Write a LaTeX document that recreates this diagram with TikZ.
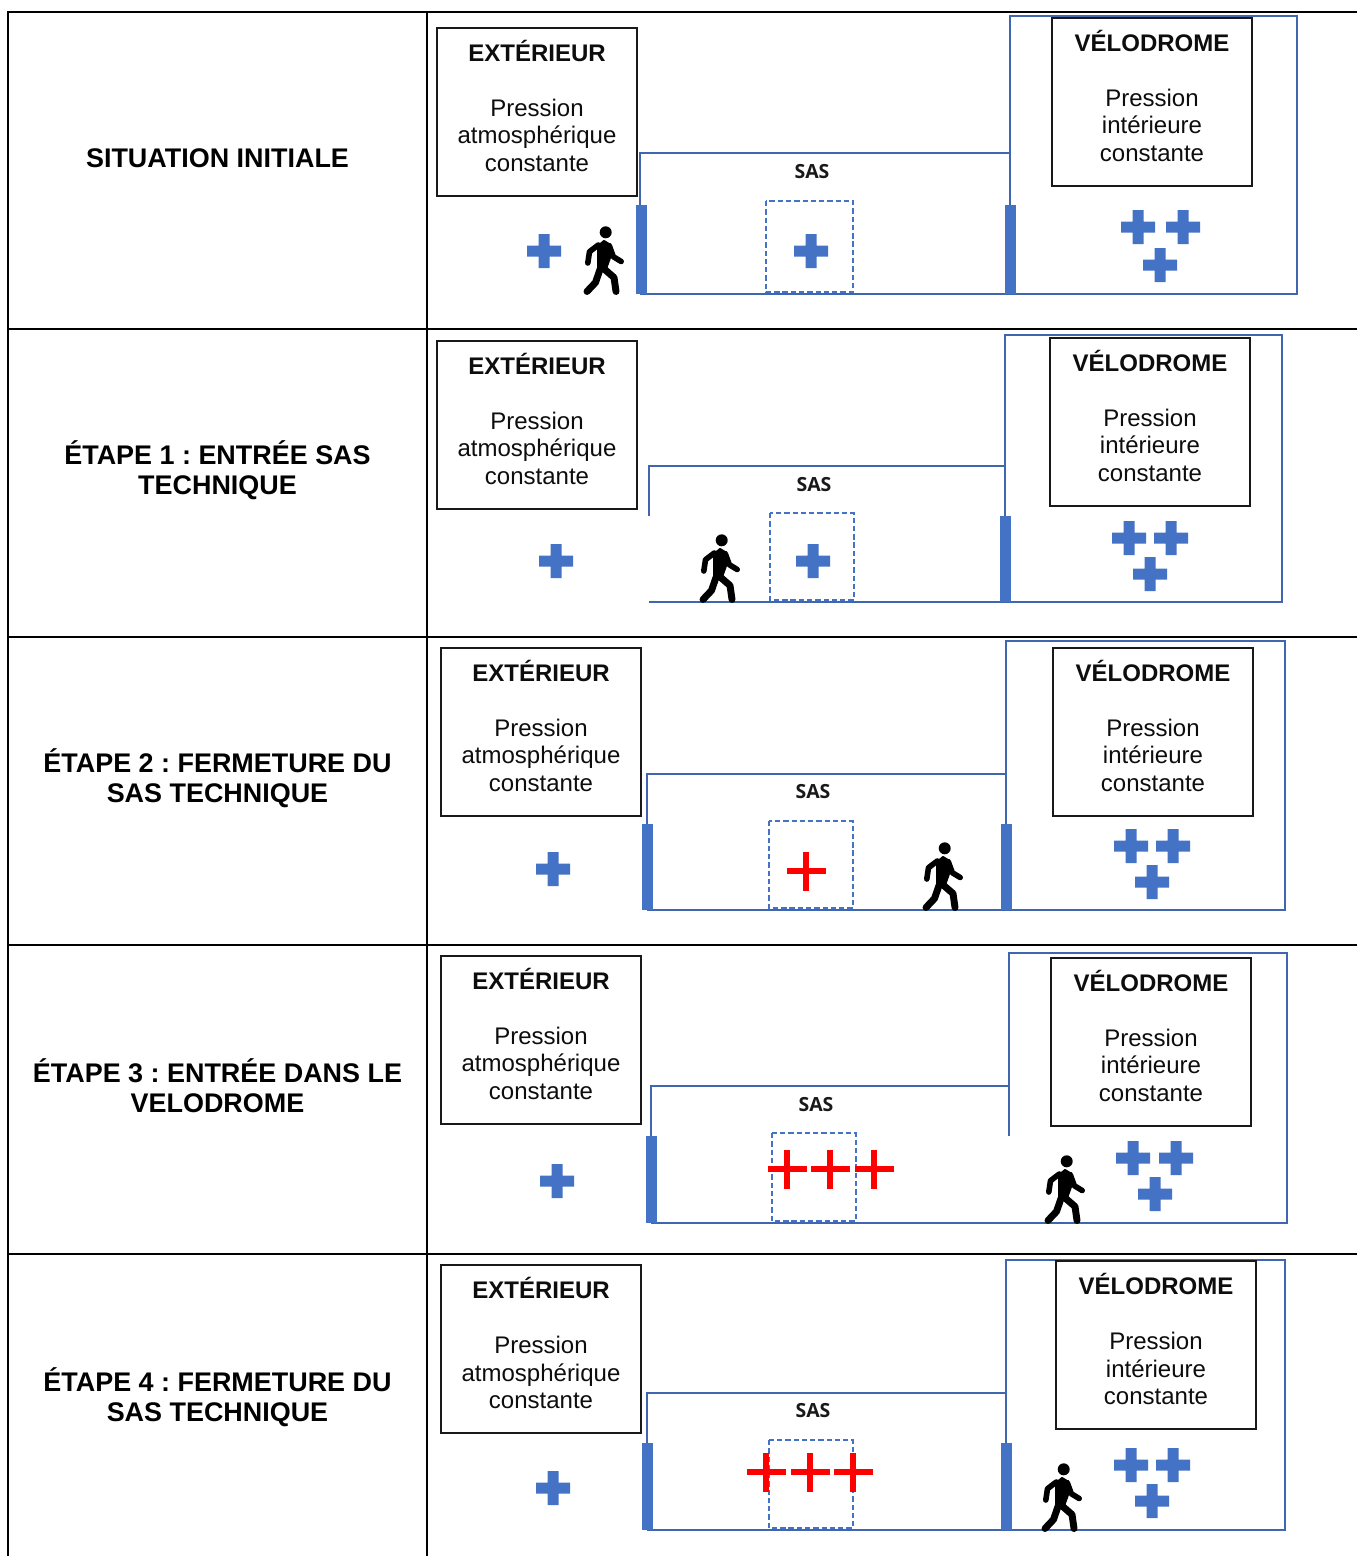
\documentclass[tikz,border=0pt]{standalone}
\usepackage{fontspec}
\setmainfont{Liberation Sans}
\newfontfamily\sasfont{Open Sans}
\definecolor{blueA}{HTML}{4472C4}
\definecolor{blueL}{HTML}{3F66AE}
\frenchspacing
\tikzset{
  x=0.75pt,y=-0.75pt,
  gridline/.style={line width=1.5pt,black},
  thinline/.style={line width=0.9pt,black},
  rowlabel/.style={align=center,font=\bfseries\fontsize{20.2}{22.6}\selectfont,inner sep=0pt,text=black},
  boxframe/.style={draw=black!90,line width=1.35pt,minimum width=150pt,minimum height=126pt,inner sep=0pt,anchor=north west},
  boxtext/.style={align=center,font=\fontsize{18}{20.6}\selectfont,inner sep=0pt,text=black!95},
  wall/.style={draw=blueL,line width=2pt,line join=miter},
  door/.style={fill=blueA,draw=none},
  testbox/.style={draw=blueA,line width=1.5pt,dash pattern=on 4pt off 2.2pt},
  saslabel/.style={font=\sasfont\bfseries\fontsize{14.6}{16}\selectfont,inner sep=0pt,text=black!90},
  pics/bplus/.style={code={
    \fill[blueA] (-5.5,-17) -- (5.5,-17) -- (5.5,-5.5) -- (17,-5.5) -- (17,5.5) -- (5.5,5.5) -- (5.5,17) -- (-5.5,17) -- (-5.5,5.5) -- (-17,5.5) -- (-17,-5.5) -- (-5.5,-5.5) -- cycle;
  }},
  pics/rplus/.style={code={
    \fill[red] (-2.6,-19.5) rectangle (2.6,19.5);
    \fill[red] (-19.5,-2.6) rectangle (19.5,2.6);
  }},
  limb/.style={black,line cap=round,line join=round},
  pics/walker/.style={code={
    \fill[black] (1.7,-62.7) circle (6);
    \fill[limb,draw=black,line width=1.5pt] (-6,-49) -- (0,-54) -- (5,-51) -- (7,-40) -- (2,-26) -- (-6,-25) -- (-6,-38) -- cycle;
    \draw[limb,line width=4.2pt] (-5.7,-50) -- (-14.5,-43.3) -- (-16.2,-32);
    \draw[limb,line width=4.2pt] (5.3,-49.3) -- (9.3,-38.3) -- (17.2,-33.5);
    \draw[limb,line width=5.2pt] (-3.5,-27) -- (-8.5,-12.5) -- (-17,-3.5);
    \draw[limb,line width=5.2pt] (-1,-27) -- (10,-17.5) -- (12,-3.5);
  }}
}
% #1 name, #2 ext left, #3 ext top, #4 vel left, #5 vel top
\newcommand{\infoboxes}[5]{%
  \node[boxframe] (#1ext) at ({#2-1},{#3-1}) {};
  \node[boxtext] (#1extt) at ({#2+100},{#3+78}) {\textbf{EXTÉRIEUR}\\[20.6pt]Pression\\atmosphérique\\constante};
  \node[boxframe] (#1vel) at ({#4-1},{#5-1}) {};
  \node[boxtext] (#1velt) at ({#4+100},{#5+78}) {\textbf{VÉLODROME}\\[20.6pt]Pression\\intérieure\\constante};
}
\begin{document}
\begin{tikzpicture}
\useasboundingbox (0,0) rectangle (1357,1556);
\fill[white] (0,0) rectangle (1357,1556);
% table
\draw[gridline] (1357,12) -- (8,12) -- (8,1556);
\draw[gridline] (427,12) -- (427,1556);
\draw[gridline] (8,329) -- (505,329);
\draw[thinline] (505,329) -- (1357,329);
\draw[gridline] (8,637) -- (427,637);
\draw[thinline] (427,637) -- (1357,637);
\draw[gridline] (8,945) -- (502,945);
\draw[thinline] (502,945) -- (1357,945);
\draw[gridline] (8,1254) -- (1357,1254);
\node[rowlabel] (r0) at (217.5,158) {SITUATION INITIALE};
\node[rowlabel] (r1) at (217.5,470) {ÉTAPE 1 : ENTRÉE SAS\\TECHNIQUE};
\node[rowlabel] (r2) at (217.5,778) {ÉTAPE 2 : FERMETURE DU\\SAS TECHNIQUE};
\node[rowlabel] (r3) at (217.5,1086) {ÉTAPE 3 : ENTRÉE DANS LE\\VELODROME};
\node[rowlabel] (r4) at (217.5,1397) {ÉTAPE 4 : FERMETURE DU\\SAS TECHNIQUE};
% panel 0
\draw[testbox] (766,201) rectangle (853,292);
\draw[wall] (640,205) -- (640,153) -- (1010,153);
\draw[wall] (1010,205) -- (1010,16) -- (1297,16) -- (1297,294) -- (640,294);
\fill[door] (636,205) rectangle (647,294);
\fill[door] (1005,205) rectangle (1016,294);
\infoboxes{a}{437}{28}{1052}{18}
\node[saslabel] (asas) at (812,172) {SAS};
\pic at (544,251) {bplus};
\pic at (811,251) {bplus};
\pic at (1138,227) {bplus};
\pic at (1183,227) {bplus};
\pic at (1160,265) {bplus};
\pic at (604,295) {walker};
% panel 1
\draw[testbox] (770,513) rectangle (854,600);
\draw[wall] (649,516) -- (649,466) -- (1005,466);
\draw[wall] (1005,516) -- (1005,335) -- (1282,335) -- (1282,602) -- (649,602);
\fill[door] (1000,516) rectangle (1011,602);
\infoboxes{b}{437}{341}{1050}{338}
\node[saslabel] (bsas) at (814,485) {SAS};
\pic at (556,561) {bplus};
\pic at (813,561) {bplus};
\pic at (1129,538) {bplus};
\pic at (1171,538) {bplus};
\pic at (1150,574) {bplus};
\pic at (720,603) {walker};
% panel 2
\draw[testbox] (769,821) rectangle (853,908);
\draw[wall] (647,824) -- (647,774) -- (1006,774);
\draw[wall] (1006,824) -- (1006,641) -- (1285,641) -- (1285,910) -- (647,910);
\fill[door] (642,824) rectangle (653,910);
\fill[door] (1001,824) rectangle (1012,910);
\infoboxes{c}{441}{648}{1053}{648}
\node[saslabel] (csas) at (813,792) {SAS};
\pic at (553,869) {bplus};
\pic at (806,871) {rplus};
\pic at (1131,846) {bplus};
\pic at (1173,846) {bplus};
\pic at (1152,882) {bplus};
\pic at (943,911) {walker};
% panel 3
\draw[testbox] (772,1133) rectangle (856,1221);
\draw[wall] (651,1136) -- (651,1086) -- (1009,1086);
\draw[wall] (1009,1136) -- (1009,953) -- (1287,953) -- (1287,1223) -- (651,1223);
\fill[door] (646,1136) rectangle (657,1223);
\infoboxes{d}{441}{956}{1051}{958}
\node[saslabel] (dsas) at (816,1105) {SAS};
\pic at (557,1181) {bplus};
\pic at (787,1169) {rplus};
\pic at (830,1169) {rplus};
\pic at (874,1169) {rplus};
\pic at (1133,1158) {bplus};
\pic at (1176,1158) {bplus};
\pic at (1155,1194) {bplus};
\pic at (1065,1224) {walker};
% panel 4
\draw[testbox] (769,1440) rectangle (853,1528);
\draw[wall] (647,1443) -- (647,1393) -- (1006,1393);
\draw[wall] (1006,1443) -- (1006,1260) -- (1285,1260) -- (1285,1530) -- (647,1530);
\fill[door] (642,1443) rectangle (653,1530);
\fill[door] (1001,1443) rectangle (1012,1530);
\infoboxes{e}{441}{1265}{1056}{1261}
\node[saslabel] (esas) at (813,1411) {SAS};
\pic at (553,1488) {bplus};
\pic at (766,1472) {rplus};
\pic at (810,1472) {rplus};
\pic at (853,1472) {rplus};
\pic at (1131,1465) {bplus};
\pic at (1173,1465) {bplus};
\pic at (1152,1501) {bplus};
\pic at (1062,1532) {walker};
\end{tikzpicture}
\end{document}
